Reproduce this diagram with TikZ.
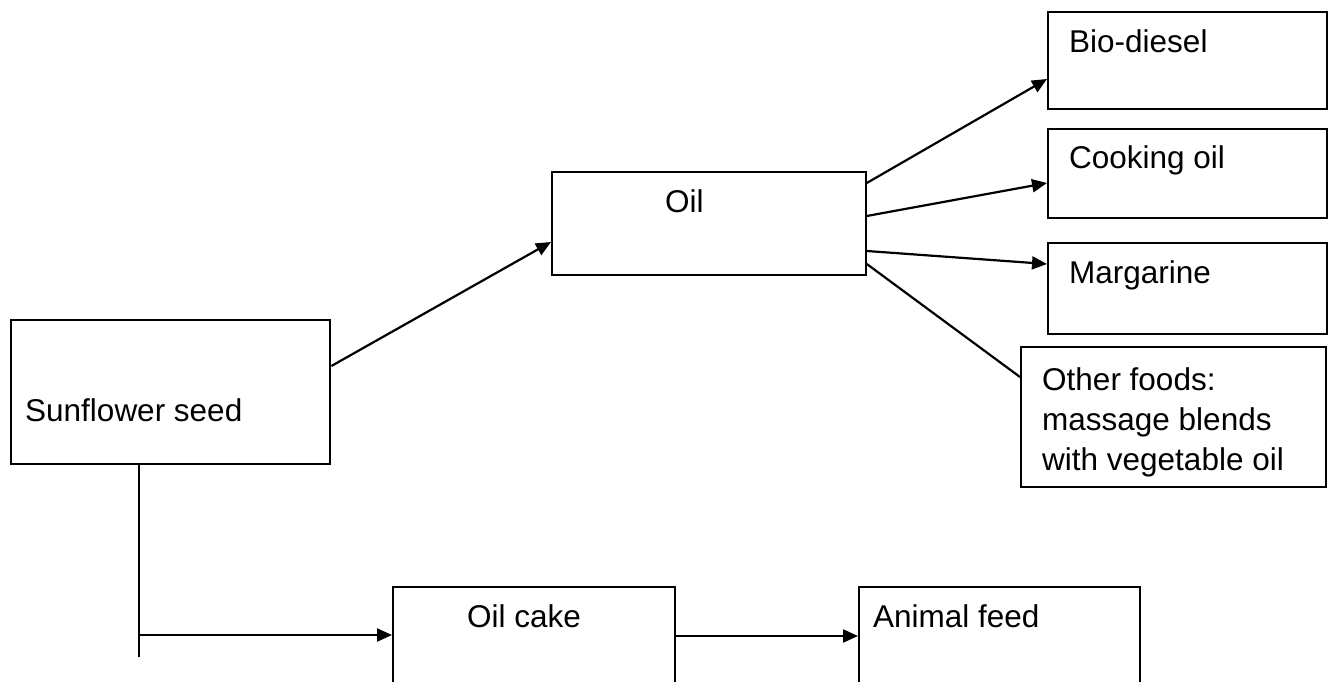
\documentclass[tikz,border=0pt]{standalone}
\usepackage{fontspec}
\setmainfont{Liberation Sans}
\usetikzlibrary{arrows.meta}
\tikzset{
  box/.style={draw=black, line width=1.8pt, rectangle, inner sep=0pt, anchor=north west},
  lbl/.style={inner sep=0pt, anchor=base west, font=\fontsize{31.5}{40}\selectfont},
  conn/.style={line width=2.2pt, draw=black},
  arr/.style={conn, -{Triangle[length=15pt,width=13pt]}}
}
\begin{document}
\begin{tikzpicture}[x=1pt,y=-1pt]
\useasboundingbox (0,0) rectangle (1333,682);
% boxes
\node[box, line width=2.4pt, minimum width=319pt, minimum height=144pt] (sun) at (10,319) {};
\node[box, minimum width=314pt, minimum height=103pt] (oil) at (551,171) {};
\node[box, minimum width=279pt, minimum height=97pt] (bio) at (1047,11) {};
\node[box, minimum width=279pt, minimum height=89pt] (cook) at (1047,128) {};
\node[box, minimum width=279pt, minimum height=91pt] (marg) at (1047,242) {};
\node[box, minimum width=305pt, minimum height=140pt] (other) at (1020,346) {};
\node[box, minimum width=282pt, minimum height=150pt] (cake) at (392,586) {};
\node[box, minimum width=281pt, minimum height=150pt] (anim) at (858,586) {};
% labels
\node[lbl] (tsun) at (25,421) {Sunflower seed};
\node[lbl] (toil) at (665,212) {Oil};
\node[lbl] (tbio) at (1069,53) {Bio-diesel};
\node[lbl] (tcook) at (1069,168) {Cooking oil};
\node[lbl] (tmarg) at (1069,283) {Margarine};
\node[lbl] (to1) at (1042,390) {Other foods:};
\node[lbl] (to2) at (1042,430) {massage blends};
\node[lbl] (to3) at (1042,470) {with vegetable oil};
\node[lbl] (tcake) at (467,627) {Oil cake};
\node[lbl] (tanim) at (873,627) {Animal feed};
% connectors
\draw[arr] ([yshift=-47pt]sun.north east) -- ([yshift=-71pt]oil.north west);
\draw[arr] ([yshift=-12pt]oil.north east) -- ([yshift=-68pt]bio.north west);
\draw[arr] ([yshift=-45pt]oil.north east) -- ([yshift=-55pt]cook.north west);
\draw[arr] ([yshift=-80pt]oil.north east) -- ([yshift=-22pt]marg.north west);
\draw[conn] ([yshift=-93pt]oil.north east) -- ([yshift=-31pt]other.north west);
\coordinate (vtop) at (139,465);
\coordinate (vbot) at (139,657);
\coordinate (vmid) at (139,635);
\draw[conn, line width=2pt] (vtop) -- (vbot);
\draw[arr] (vmid) -- ([yshift=-49pt]cake.north west);
\draw[arr] ([yshift=-50pt]cake.north east) -- ([yshift=-50pt]anim.north west);
\end{tikzpicture}
\end{document}
